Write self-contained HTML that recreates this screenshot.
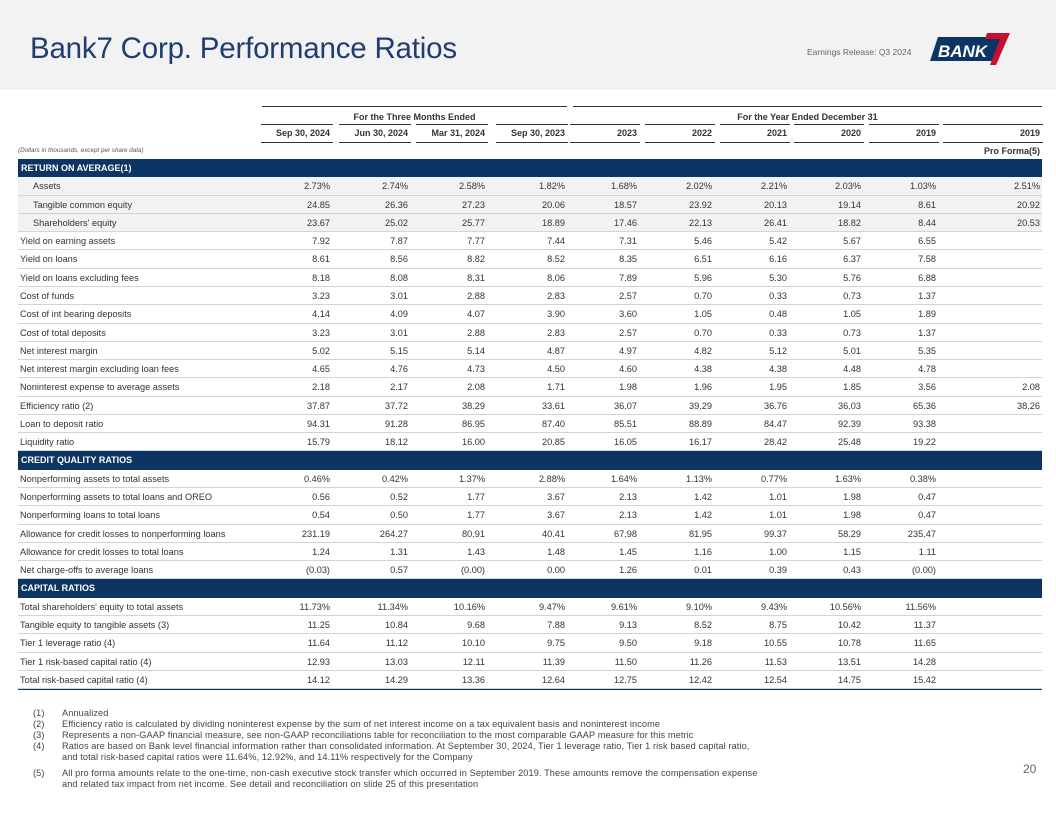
<!DOCTYPE html>
<html><head><meta charset="utf-8">
<style>
body{margin:0;width:1056px;height:816px;position:relative;background:#fff;font-family:"Liberation Sans",sans-serif;overflow:hidden;color:#333}
.band{position:absolute;left:0;top:0;width:1056px;height:90px;background:#f2f2f2}
.title{position:absolute;left:30px;top:32px;font-size:29.5px;color:#1f3d72;letter-spacing:-0.2px}
.er{position:absolute;left:807px;top:47px;font-size:8.5px;color:#666}
.abs{position:absolute;white-space:nowrap}
.t{font-size:9.2px;color:#333}
.hd{font-size:9px;color:#333;font-weight:bold}
.sec{position:absolute;left:18px;width:1024px;height:18.3px;background:#0c3563;color:#fff;font-weight:bold;font-size:9px;line-height:18.3px;text-indent:3px}
.row{position:absolute;left:18px;width:1024px;height:18.3px;border-bottom:1px solid #d4d4d4;box-sizing:border-box}
.ln{position:absolute;height:1px;background:#333}
.fn{position:absolute;font-size:9.2px;color:#444;white-space:nowrap;letter-spacing:0.1px}
</style></head><body>
<div class="band"></div>
<div class="title">Bank7 Corp. Performance Ratios</div>
<div class="er">Earnings Release: Q3 2024</div>
<svg style="position:absolute;left:930px;top:31px" width="84" height="36" viewBox="0 0 84 36">
<polygon points="8,6 76,6 68,30 0,30" fill="#0c3563"/>
<polygon points="57,2 80,2 66,34 60,34 70,8 55,8" fill="#c8102e"/>
<text x="8" y="26" font-family="Liberation Sans" font-weight="bold" font-style="italic" font-size="17" fill="#fff">BANK</text>
</svg>
<div id="tbl"></div>
<div class="fn" style="left:33px;top:708px">(1)</div><div class="fn" style="left:62px;top:708px">Annualized</div>
<div class="fn" style="left:33px;top:719px">(2)</div><div class="fn" style="left:62px;top:719px">Efficiency ratio is calculated by dividing noninterest expense by the sum of net interest income on a tax equivalent basis and noninterest income</div>
<div class="fn" style="left:33px;top:730px">(3)</div><div class="fn" style="left:62px;top:730px">Represents a non-GAAP financial measure, see non-GAAP reconciliations table for reconciliation to the most comparable GAAP measure for this metric</div>
<div class="fn" style="left:33px;top:741px">(4)</div><div class="fn" style="left:62px;top:741px;line-height:11px">Ratios are based on Bank level financial information rather than consolidated information. At September 30, 2024, Tier 1 leverage ratio, Tier 1 risk based capital ratio,<br>and total risk-based capital ratios were 11.64%, 12.92%, and 14.11% respectively for the Company</div>
<div class="fn" style="left:33px;top:768px">(5)</div><div class="fn" style="left:62px;top:768px;line-height:11px">All pro forma amounts relate to the one-time, non-cash executive stock transfer which occurred in September 2019.  These amounts remove the compensation expense<br>and related tax impact from net income.  See detail and reconciliation on slide 25 of this presentation</div>
<div class="abs" style="left:1023px;top:762px;font-size:12px;color:#666">20</div>
<script>
const columns=["Sep 30, 2024","Jun 30, 2024","Mar 31, 2024","Sep 30, 2023","2023","2022","2021","2020","2019","2019"];
const colRight=[330,408,485,565,637,712,787,861,936,1040];
const rows=[
["S","RETURN ON AVERAGE(1)"],
["Assets",["2.73%","2.74%","2.58%","1.82%","1.68%","2.02%","2.21%","2.03%","1.03%","2.51%"],1],
["Tangible common equity",["24.85","26.36","27.23","20.06","18.57","23.92","20.13","19.14","8.61","20.92"],1],
["Shareholders' equity",["23.67","25.02","25.77","18.89","17.46","22.13","26.41","18.82","8.44","20.53"],1],
["Yield on earning assets",["7.92","7.87","7.77","7.44","7.31","5.46","5.42","5.67","6.55",""]],
["Yield on loans",["8.61","8.56","8.82","8.52","8.35","6.51","6.16","6.37","7.58",""]],
["Yield on loans excluding fees",["8.18","8.08","8.31","8.06","7.89","5.96","5.30","5.76","6.88",""]],
["Cost of funds",["3.23","3.01","2.88","2.83","2.57","0.70","0.33","0.73","1.37",""]],
["Cost of int bearing deposits",["4.14","4.09","4.07","3.90","3.60","1.05","0.48","1.05","1.89",""]],
["Cost of total deposits",["3.23","3.01","2.88","2.83","2.57","0.70","0.33","0.73","1.37",""]],
["Net interest margin",["5.02","5.15","5.14","4.87","4.97","4.82","5.12","5.01","5.35",""]],
["Net interest margin excluding loan fees",["4.65","4.76","4.73","4.50","4.60","4.38","4.38","4.48","4.78",""]],
["Noninterest expense to average assets",["2.18","2.17","2.08","1.71","1.98","1.96","1.95","1.85","3.56","2.08"]],
["Efficiency ratio (2)",["37.87","37.72","38.29","33.61","36.07","39.29","36.76","36.03","65.36","38.26"]],
["Loan to deposit ratio",["94.31","91.28","86.95","87.40","85.51","88.89","84.47","92.39","93.38",""]],
["Liquidity ratio",["15.79","18.12","16.00","20.85","16.05","16.17","28.42","25.48","19.22",""]],
["S","CREDIT QUALITY RATIOS"],
["Nonperforming assets to total assets",["0.46%","0.42%","1.37%","2.88%","1.64%","1.13%","0.77%","1.63%","0.38%",""]],
["Nonperforming assets to total loans and OREO",["0.56","0.52","1.77","3.67","2.13","1.42","1.01","1.98","0.47",""]],
["Nonperforming loans to total loans",["0.54","0.50","1.77","3.67","2.13","1.42","1.01","1.98","0.47",""]],
["Allowance for credit losses to nonperforming loans",["231.19","264.27","80.91","40.41","67.98","81.95","99.37","58.29","235.47",""]],
["Allowance for credit losses to total loans",["1.24","1.31","1.43","1.48","1.45","1.16","1.00","1.15","1.11",""]],
["Net charge-offs to average loans",["(0.03)","0.57","(0.00)","0.00","1.26","0.01","0.39","0.43","(0.00)",""]],
["S","CAPITAL RATIOS"],
["Total shareholders' equity to total assets",["11.73%","11.34%","10.16%","9.47%","9.61%","9.10%","9.43%","10.56%","11.56%",""]],
["Tangible equity to tangible assets (3)",["11.25","10.84","9.68","7.88","9.13","8.52","8.75","10.42","11.37",""]],
["Tier 1 leverage ratio (4)",["11.64","11.12","10.10","9.75","9.50","9.18","10.55","10.78","11.65",""]],
["Tier 1 risk-based capital ratio (4)",["12.93","13.03","12.11","11.39","11.50","11.26","11.53","13.51","14.28",""]],
["Total risk-based capital ratio (4)",["14.12","14.29","13.36","12.64","12.75","12.42","12.54","14.75","15.42",""]]
];
const T=document.getElementById('tbl');
function add(html,cls,style,name){const d=document.createElement('div');d.className=cls;d.setAttribute('style',style);d.textContent=html;


T.appendChild(d);return d;}
add('','ln','left:262px;top:106px;width:305px','three-months-top-rule');
add('','ln','left:573px;top:106px;width:469px','year-ended-top-rule');
add('For the Three Months Ended','abs hd','left:262px;width:305px;text-align:center;top:112px','three-months-header');
add('For the Year Ended December 31','abs hd','left:573px;width:469px;text-align:center;top:112px','year-ended-header');
colRight.forEach((r,i)=>{
  const w=i==9?100:(i<4?72:70);
  add('','ln','left:'+(r-w+3)+'px;top:124px;width:'+w+'px','column-top-rule');
  add('','ln','left:'+(r-w+3)+'px;top:142px;width:'+w+'px','column-bottom-rule');
  add(columns[i],'abs hd','right:'+(1056-r)+'px;top:128px','column-header');
});
add('(Dollars in thousands, except per share data)','abs','left:18px;top:147px;font-size:6.3px;font-style:italic;color:#555','units-note');
add('Pro Forma(5)','abs hd','right:16px;top:146px','pro-forma-header');
const top0=159,rh=18.28;
rows.forEach((r,k)=>{
  const y=top0+k*rh;
  if(r[0]==='S'){add(r[1],'sec','top:'+y+'px','section-header');return;}
  add('','row','top:'+y+'px;'+(r[2]?'background:#f2f2f2':''),'table-row');
  add(r[0],'abs t','left:'+(r[2]?33:20)+'px;top:'+(y+4)+'px','row-label');
  r[1].forEach((v,i)=>{ if(v) add(v,'abs t','right:'+(1056-colRight[i])+'px;top:'+(y+4)+'px','cell-value');});
});
add('','ln','left:18px;top:689px;width:1024px;background:#0c3563','table-bottom-rule');
</script>
</body></html>
